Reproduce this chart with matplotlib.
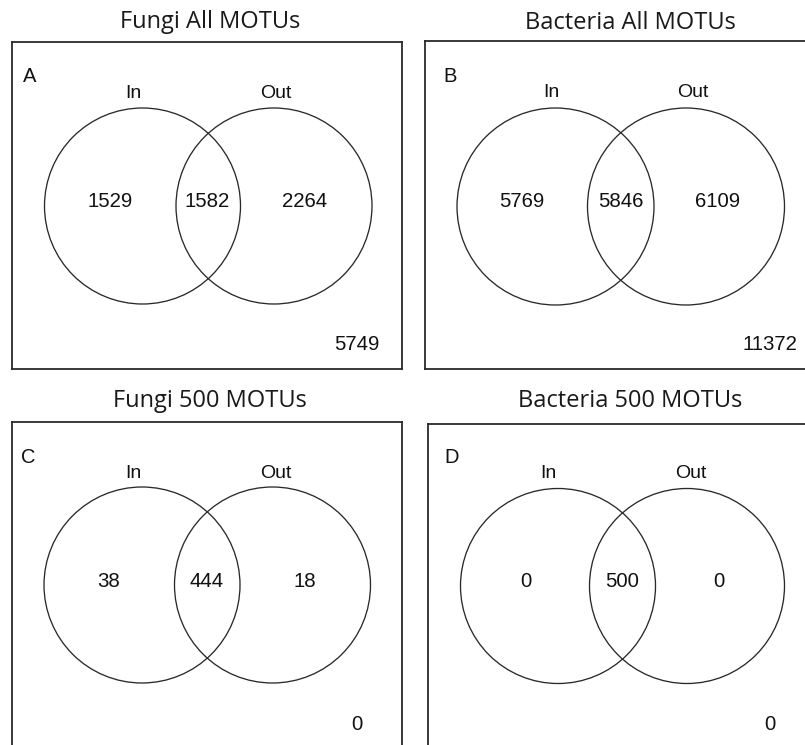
import matplotlib
matplotlib.use("Agg")
import matplotlib.pyplot as plt
from matplotlib.patches import Circle

# ---- data ----
titles = ["Fungi All MOTUs", "Bacteria All MOTUs", "Fungi 500 MOTUs", "Bacteria 500 MOTUs"]
panel_letters = ["A", "B", "C", "D"]
set_names = ["In", "Out"]
only_in = [1529, 5769, 38, 0]
both = [1582, 5846, 444, 500]
only_out = [2264, 6109, 18, 0]
neither = [5749, 11372, 0, 0]

# ---- layout (pixels) ----
W, H = 805, 745
fig = plt.figure(figsize=(W / 100, H / 100), dpi=100)
ax = fig.add_axes([0, 0, 1, 1])
ax.set_xlim(0, W)
ax.set_ylim(H, 0)
ax.axis("off")

LINE = "#2a2a2a"
num_font = "Liberation Sans"
title_font = "Open Sans"

panels = [
    dict(box=(12, 42, 402, 369), title=(210, 28.5), letter=(23, 82.5), nb=98, nx=(133, 276),
         circ=(142.5, 274, 206, 98), numb=207, numx=(110, 207.5, 304.5), outer=(357, 350)),
    dict(box=(425, 41, 812, 369), title=(630, 29), letter=(443, 82.5), nb=97, nx=(551, 693),
         circ=(555.5, 686, 206.5, 98.5), numb=207, numx=(522, 620.5, 718), outer=(770, 350)),
    dict(box=(12, 422, 402, 760), title=(210, 407), letter=(21, 463), nb=478.5, nx=(133, 276),
         circ=(142, 272.5, 585, 98), numb=587, numx=(109, 207, 305), outer=(357, 729.5)),
    dict(box=(428, 424, 812, 760), title=(630, 407), letter=(444, 463), nb=478.5, nx=(548.5, 691),
         circ=(558, 687, 586, 97.5), numb=587, numx=(525.5, 622, 718.5), outer=(770, 729.5)),
]

for i, p in enumerate(panels):
    l, t, r, b = p["box"]
    ax.plot([l, r], [t, t], color=LINE, lw=1.3, solid_capstyle="projecting")
    ax.plot([l, l], [t, b], color=LINE, lw=1.3, solid_capstyle="projecting")
    if r < W:
        ax.plot([r, r], [t, b], color=LINE, lw=1.3, solid_capstyle="projecting")
    if b < H:
        ax.plot([l, r], [b, b], color=LINE, lw=1.3, solid_capstyle="projecting")

    ax.text(p["title"][0], p["title"][1], titles[i], ha="center", va="baseline",
            fontsize=17, family=title_font, color="#1a1a1a")
    ax.text(p["letter"][0], p["letter"][1], panel_letters[i], ha="left", va="baseline",
            fontsize=14.5, family=num_font, color="#111111")
    for name, x in zip(set_names, p["nx"]):
        ax.text(x, p["nb"], name, ha="center", va="baseline", fontsize=14,
                family=num_font, color="#111111")

    xl, xr, cy, rad = p["circ"]
    for cx in (xl, xr):
        ax.add_patch(Circle((cx, cy), rad, fill=False, ec=LINE, lw=0.95))

    vals = [only_in[i], both[i], only_out[i]]
    for v, x in zip(vals, p["numx"]):
        ax.text(x, p["numb"], str(v), ha="center", va="baseline", fontsize=14.7,
                family=num_font, color="#111111")
    ax.text(p["outer"][0], p["outer"][1], str(neither[i]), ha="center", va="baseline",
            fontsize=14.7, family=num_font, color="#111111")

fig.savefig("out.png", dpi=100)
